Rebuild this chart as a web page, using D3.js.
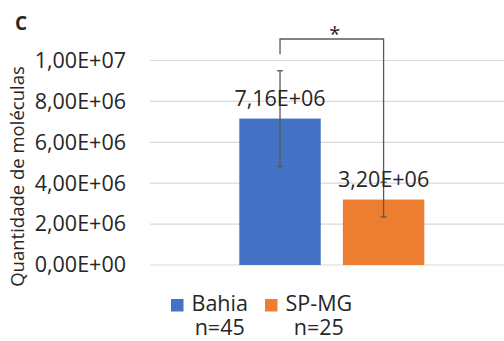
<!DOCTYPE html>
<html>
<head>
<meta charset="utf-8">
<script src="https://cdn.jsdelivr.net/npm/d3@7"></script>
<style>
  html, body { margin: 0; padding: 0; background: #fff; }
  svg { display: block; }
  text { font-family: "Open Sans", "Liberation Sans", sans-serif; fill: #262626; }
</style>
</head>
<body>
<script>
// Mean molecule counts per group, with standard deviation
const groups = ["Bahia", "SP-MG"];
const sampleSizes = ["n=45", "n=25"];
const means = [7.16e6, 3.20e6];
const deviations = [2.34e6, 0.85e6];
const meanLabels = ["7,16E+06", "3,20E+06"];
const yTicks = [0, 2e6, 4e6, 6e6, 8e6, 1e7];
const yTickLabels = ["0,00E+00", "2,00E+06", "4,00E+06", "6,00E+06", "8,00E+06", "1,00E+07"];
const colors = ["#4472C4", "#ED7D31"];

const W = 504, H = 341;
const FS = 21.5;
const plot = { left: 150, right: 514, top: 60.5, bottom: 265 };

const svg = d3.select("body").append("svg").attr("width", W).attr("height", H);

const y = d3.scaleLinear().domain([0, 1e7]).range([plot.bottom, plot.top]);
const x = d3.scaleBand().domain(groups)
  .range([239.3, 424.3]).paddingInner(0.2136);

// Horizontal gridlines
svg.append("g").selectAll("line").data(yTicks).join("line")
  .attr("x1", plot.left).attr("x2", plot.right)
  .attr("y1", d => y(d)).attr("y2", d => y(d))
  .attr("stroke", "#d9d9d9").attr("stroke-width", 1.2);

// Y axis tick labels
const yAxis = d3.axisLeft(y).tickValues(yTicks).tickSize(0).tickPadding(0)
  .tickFormat((d, i) => yTickLabels[i]);
const ya = svg.append("g").attr("transform", `translate(126,0)`).call(yAxis);
ya.select(".domain").remove();
ya.selectAll("text").attr("font-size", FS).attr("fill", "#262626")
  .attr("font-family", "'Open Sans', sans-serif");

// Bars
svg.append("g").selectAll("rect").data(groups).join("rect")
  .attr("x", d => x(d)).attr("width", x.bandwidth())
  .attr("y", (d, i) => y(means[i]))
  .attr("height", (d, i) => y(0) - y(means[i]))
  .attr("fill", (d, i) => colors[i]);

// Error bars
const eb = svg.append("g").attr("stroke", "#595959").attr("stroke-width", 1.3);
groups.forEach((g, i) => {
  const cx = x(g) + x.bandwidth() / 2;
  const top = y(means[i] + deviations[i]);
  const bot = y(means[i] - deviations[i]);
  eb.append("line").attr("x1", cx).attr("x2", cx).attr("y1", top).attr("y2", bot);
  eb.append("line").attr("x1", cx - 3).attr("x2", cx + 3).attr("y1", top).attr("y2", top);
  eb.append("line").attr("x1", cx - 3).attr("x2", cx + 3).attr("y1", bot).attr("y2", bot);
});

// Significance bracket
const cx0 = x(groups[0]) + x.bandwidth() / 2;
const cx1 = x(groups[1]) + x.bandwidth() / 2;
const bracketY = 39;
svg.append("path")
  .attr("d", `M${cx0},${y(means[0] + deviations[0]) - 16.5}V${bracketY}H${cx1}V${y(means[1] + deviations[1])}`)
  .attr("fill", "none").attr("stroke", "#595959").attr("stroke-width", 1.3);
svg.append("text").attr("x", (cx0 + cx1) / 2 + 3).attr("y", 41)
  .attr("text-anchor", "middle").attr("font-size", 20).text("*");

// Value labels above the bars
svg.append("g").selectAll("text").data(groups).join("text")
  .attr("x", d => x(d) + x.bandwidth() / 2)
  .attr("y", (d, i) => y(means[i]) - 12.5)
  .attr("text-anchor", "middle").attr("font-size", FS)
  .text((d, i) => meanLabels[i]);

// Y axis title
svg.append("text")
  .attr("transform", `translate(24,${176.5}) rotate(-90)`)
  .attr("text-anchor", "middle").attr("font-size", 18.5)
  .text("Quantidade de moléculas");

// Panel letter
svg.append("text").attr("x", 15).attr("y", 30)
  .attr("font-size", 19).attr("font-weight", "bold").text("C");

// Legend: swatch plus a two-line label (group name, sample size)
const legendX = [171, 265];
const leg = svg.append("g");
groups.forEach((g, i) => {
  leg.append("rect").attr("x", legendX[i]).attr("y", 299).attr("width", 12.5).attr("height", 12.5)
    .attr("fill", colors[i]);
  const tx = legendX[i] + 20.5;
  const t = leg.append("text").attr("font-size", FS);
  const first = t.append("tspan").attr("x", tx).attr("y", 311).text(g);
  const w = first.node().getComputedTextLength();
  t.append("tspan").attr("x", tx + w / 2).attr("y", 334.5)
    .attr("text-anchor", "middle").text(sampleSizes[i]);
});
</script>
</body>
</html>
